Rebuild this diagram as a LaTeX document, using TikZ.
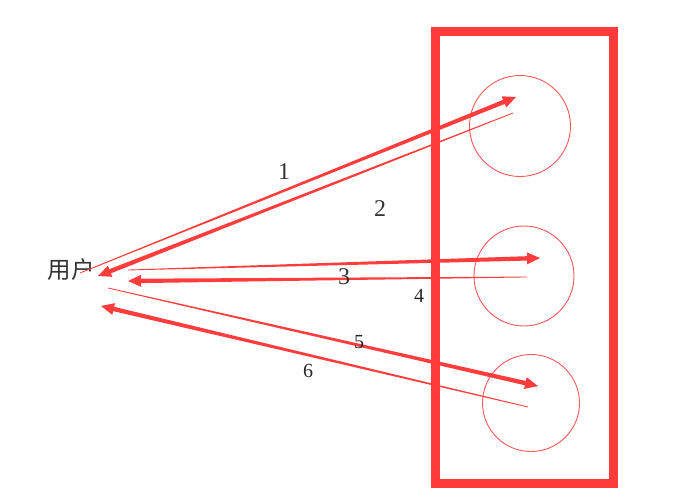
\documentclass[tikz,border=0pt]{standalone}
\usepackage{fontspec}
\setmainfont{Liberation Serif}
\newfontfamily\cjk{Noto Sans CJK SC}
\usetikzlibrary{calc}
\definecolor{boxred}{RGB}{255,58,58}
\definecolor{ringred}{RGB}{246,88,88}
\definecolor{arrowred}{RGB}{255,60,60}
\tikzset{
  frame/.style={draw=boxred, line width=9pt},
  ring/.style={draw=ringred, line width=0.9pt},
  numlabel/.style={font=\fontsize{24}{24}\selectfont, text=black!80, inner sep=0pt},
  smalllabel/.style={font=\fontsize{20}{20}\selectfont, text=black!85, inner sep=0pt},
}
% tapered arrow: #1 start (thin), #2 tip, #3 half-width before head
\newcommand\taperarrow[3]{%
  \path ($(#2)!13pt!(#1)$) coordinate (tmph);
  \fill[arrowred] ($(#1)!0.4pt!90:(#2)$) -- ($(tmph)!#3!90:(#2)$)
    -- ($(tmph)!6pt!90:(#2)$) -- (#2) -- ($(tmph)!6pt!-90:(#2)$)
    -- ($(tmph)!#3!-90:(#2)$) -- ($(#1)!0.4pt!-90:(#2)$) -- cycle;}
\begin{document}
\begin{tikzpicture}[x=1pt,y=-1pt]
\useasboundingbox (0,0) rectangle (693,496);
% frame
\node[frame, minimum width=178pt, minimum height=452pt, inner sep=0pt] (box) at (524,257) {};
% servers
\node[ring, circle, minimum size=101pt, inner sep=0pt] (c1) at (520,126) {};
\node[ring, circle, minimum size=100pt, inner sep=0pt] (c2) at (524,276) {};
\node[ring, circle, minimum size=97pt, inner sep=0pt] (c3) at (531,403) {};
% user
\node[font=\cjk\fontsize{23.5}{23.5}\selectfont, text=black!80, inner sep=0pt] (user) at (71,270) {用户};
% endpoints
\coordinate (s1) at (80,273);  \coordinate (e1) at (516,97);
\coordinate (s2) at (513,113); \coordinate (e2) at (98,276);
\coordinate (s3) at (128,270); \coordinate (e3) at (540,258);
\coordinate (s4) at (527,277); \coordinate (e4) at (128,281);
\coordinate (s5) at (108,288); \coordinate (e5) at (538,386);
\coordinate (s6) at (528,407); \coordinate (e6) at (101,306);
\taperarrow{s1}{e1}{2.2pt}
\taperarrow{s2}{e2}{2.2pt}
\taperarrow{s3}{e3}{2.2pt}
\taperarrow{s4}{e4}{2.2pt}
\taperarrow{s5}{e5}{2.2pt}
\taperarrow{s6}{e6}{2.2pt}
% labels
\node[numlabel] (n1) at (284,172) {1};
\node[numlabel] (n2) at (380,209) {2};
\node[numlabel] (n3) at (344,277) {3};
\node[smalllabel] (n4) at (419,296) {4};
\node[smalllabel] (n5) at (359,342) {5};
\node[smalllabel] (n6) at (308,371) {6};
\end{tikzpicture}
\end{document}
